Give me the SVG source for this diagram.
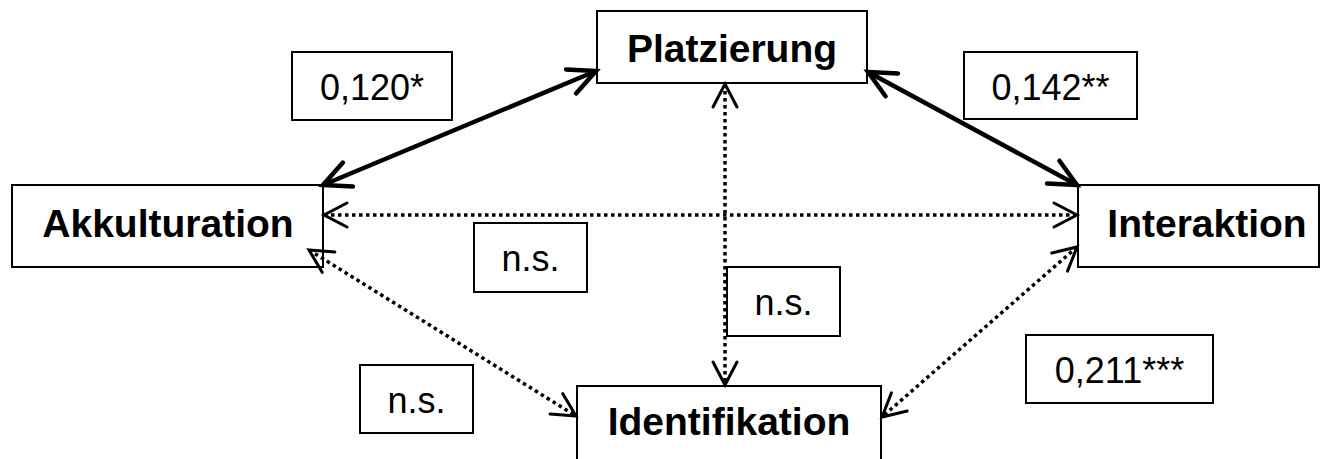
<svg xmlns="http://www.w3.org/2000/svg" width="1321" height="459" viewBox="0 0 1321 459">
<style>
.box{fill:#fff;stroke:#000;stroke-width:2}
.node{font-family:"Liberation Sans",Arial,sans-serif;font-weight:bold;font-size:39px;text-anchor:middle;fill:#000}
.lbl{font-family:"Liberation Sans",Arial,sans-serif;font-size:36px;text-anchor:middle;fill:#000}
.solid{fill:none;stroke:#000;stroke-width:4.5;marker-start:url(#ahT);marker-end:url(#ahT)}
.dot{fill:none;stroke:#000;stroke-width:3.5;stroke-dasharray:3.5 3.5;marker-start:url(#ahD);marker-end:url(#ahD)}
</style>
<defs>
<marker id="ahT" markerUnits="userSpaceOnUse" orient="auto-start-reverse" refX="0" refY="0" overflow="visible" markerWidth="1" markerHeight="1">
<path d="M-27,-13 L0,0 L-27,13" fill="none" stroke="#000" stroke-width="4.5" stroke-linecap="round" stroke-linejoin="miter"/>
</marker>
<marker id="ahD" markerUnits="userSpaceOnUse" orient="auto-start-reverse" refX="0" refY="0" overflow="visible" markerWidth="1" markerHeight="1">
<path d="M-23,-12 L0,0 L-23,12" fill="none" stroke="#000" stroke-width="3" stroke-linecap="round"/>
</marker>
</defs>
<rect width="1321" height="459" fill="#fff"/>
<g id="node-platzierung">
<rect class="box" x="597" y="11" width="270" height="72"/>
<text class="node" x="732" y="62">Platzierung</text>
</g>
<g id="node-akkulturation">
<rect class="box" x="12" y="185" width="311" height="82"/>
<text class="node" x="168" y="237">Akkulturation</text>
</g>
<g id="node-interaktion">
<rect class="box" x="1078" y="185" width="241" height="82"/>
<text class="node" x="1207" y="237">Interaktion</text>
</g>
<g id="node-identifikation">
<rect class="box" x="577" y="386" width="304" height="82"/>
<text class="node" x="729" y="435">Identifikation</text>
</g>
<g id="label-akk-plat">
<rect class="box" x="292" y="52" width="160" height="68"/>
<text class="lbl" x="372" y="100">0,120*</text>
</g>
<g id="label-plat-int">
<rect class="box" x="964" y="52" width="173" height="67"/>
<text class="lbl" x="1050.5" y="100">0,142**</text>
</g>
<g id="label-akk-int">
<rect class="box" x="474" y="223" width="113" height="69"/>
<text class="lbl" x="530.5" y="271">n.s.</text>
</g>
<g id="label-plat-ident">
<rect class="box" x="727" y="267" width="113" height="69"/>
<text class="lbl" x="783.5" y="315">n.s.</text>
</g>
<g id="label-akk-ident">
<rect class="box" x="360" y="365" width="113" height="68"/>
<text class="lbl" x="416.5" y="413">n.s.</text>
</g>
<g id="label-int-ident">
<rect class="box" x="1026" y="335" width="187" height="68"/>
<text class="lbl" x="1119.5" y="383">0,211***</text>
</g>
<g id="connectors">
<line class="solid" x1="323" y1="185" x2="596" y2="71"/>
<line class="solid" x1="868" y1="72" x2="1077" y2="185"/>
<line class="dot" x1="324" y1="215" x2="1077" y2="215"/>
<line class="dot" x1="725" y1="84" x2="725" y2="385"/>
<line class="dot" x1="309" y1="250" x2="576" y2="416"/>
<line class="dot" x1="1077" y1="247" x2="882" y2="417"/>
</g>
</svg>
